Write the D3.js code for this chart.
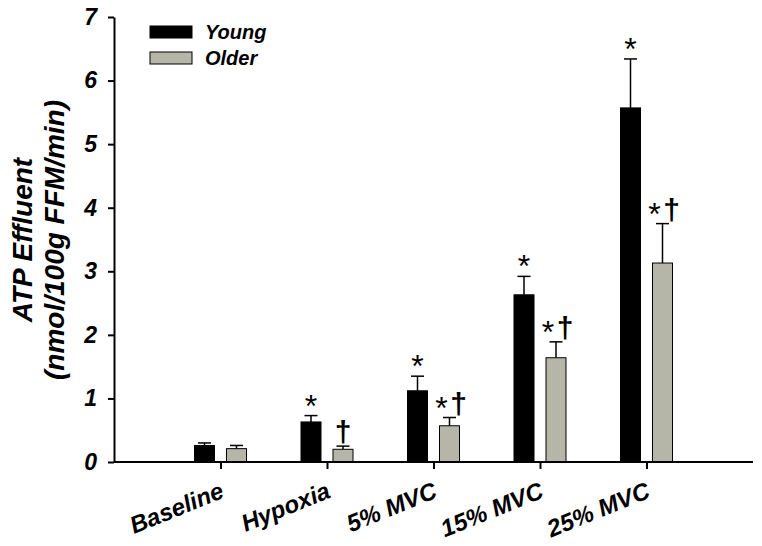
<!DOCTYPE html>
<html><head><meta charset="utf-8">
<script src="https://cdn.jsdelivr.net/npm/d3@7"></script>
<style>body{margin:0;background:#fff}</style>
</head><body>
<svg id="c" width="762" height="546"></svg>
<script>
const categories = ["Baseline","Hypoxia","5% MVC","15% MVC","25% MVC"];
const youngMean = [0.26, 0.63, 1.12, 2.63, 5.57];
const youngErr  = [0.04, 0.10, 0.23, 0.29, 0.77];
const olderMean = [0.21, 0.20, 0.57, 1.64, 3.13];
const olderErr  = [0.05, 0.05, 0.13, 0.25, 0.62];
const youngMarks = ["", "*", "*", "*", "*"];
const olderMarks = ["", "†", "*†", "*†", "*†"];
const yTicks = [0,1,2,3,4,5,6,7];
const series = [
  {name:"Young", mean:youngMean, err:youngErr, marks:youngMarks, color:"#000000", off:-16},
  {name:"Older", mean:olderMean, err:olderErr, marks:olderMarks, color:"#b6b6a8", off:16}
];

const svg = d3.select("#c");
const font = "'Liberation Sans', Arial, sans-serif";
const x = d3.scaleLinear().domain([0,6]).range([114,753]);
const y = d3.scaleLinear().domain([0,7]).range([462,17]);
const bw = 20;

// bars
series.forEach(s => {
  const g = svg.append("g");
  categories.forEach((c,i) => {
    const cx = x(i+1) + s.off;
    g.append("line").attr("x1",cx).attr("x2",cx)
      .attr("y1",y(s.mean[i])).attr("y2",y(s.mean[i]+s.err[i]))
      .attr("stroke","#000").attr("stroke-width",1.5);
    g.append("line").attr("x1",cx-6.5).attr("x2",cx+6.5)
      .attr("y1",y(s.mean[i]+s.err[i])).attr("y2",y(s.mean[i]+s.err[i]))
      .attr("stroke","#000").attr("stroke-width",1.5);
    g.append("rect").attr("x",cx-bw/2).attr("width",bw)
      .attr("y",y(s.mean[i])).attr("height",y(0)-y(s.mean[i]))
      .attr("fill",s.color).attr("stroke","#000").attr("stroke-width",1);
    const m = s.marks[i];
    const top = y(s.mean[i]+s.err[i]);
    if (m.includes("*")) {
      const ax = m.includes("†") ? cx-8 : cx;
      g.append("text").attr("x",ax).attr("y",top+1)
        .attr("text-anchor","middle").attr("font-family",font)
        .attr("font-size",32).text("*");
    }
    if (m.includes("†")) {
      const dx = m.includes("*") ? cx+9 : cx;
      g.append("text").attr("x",dx).attr("y",top-4)
        .attr("text-anchor","middle").attr("font-family",font)
        .attr("font-weight","bold")
        .attr("font-size",30).text("†");
    }
  });
});

// y axis
const yAxis = d3.axisLeft(y).tickValues(yTicks).tickSize(6).tickSizeOuter(0).tickFormat(d3.format("d"));
const ya = svg.append("g").attr("transform","translate(114,0)").call(yAxis);
ya.select(".domain").attr("stroke-width",2);
ya.selectAll(".tick line").attr("stroke-width",2);
ya.selectAll("text").attr("font-family",font).attr("font-size",23)
  .attr("font-weight","bold").attr("font-style","italic").attr("fill","#000").attr("x",-17);

// x axis
const xAxis = d3.axisBottom(x).tickValues([1,2,3,4,5]).tickSize(7).tickSizeOuter(0).tickFormat("");
const xa = svg.append("g").attr("transform","translate(0,462)").call(xAxis);
xa.select(".domain").attr("stroke-width",2).attr("d","M114,0H753");
xa.selectAll(".tick line").attr("stroke-width",2);
svg.append("g").selectAll("text").data(categories).join("text")
  .attr("transform",(d,i)=>"translate(" + (x(i+1)+5) + ",497) rotate(-22)")
  .attr("text-anchor","end").attr("font-family",font).attr("font-size",24)
  .attr("font-weight","bold").attr("font-style","italic").attr("fill","#000")
  .text(d=>d);

// y label
const yl = svg.append("text").attr("transform","translate(0,240) rotate(-90)")
  .attr("text-anchor","middle").attr("font-family",font).attr("font-weight","bold")
  .attr("font-style","italic").attr("font-size",28).attr("fill","#000");
yl.append("tspan").attr("x",0).attr("y",32).text("ATP Effluent");
yl.append("tspan").attr("x",0).attr("y",64).text("(nmol/100g FFM/min)");

// legend
const lg = svg.append("g");
series.forEach((s,i) => {
  lg.append("rect").attr("x",150).attr("y",26+i*26).attr("width",42).attr("height",12)
    .attr("fill",s.color).attr("stroke","#000").attr("stroke-width",1);
  lg.append("text").attr("x",205).attr("y",39+i*26).attr("font-family",font)
    .attr("font-weight","bold").attr("font-style","italic").attr("font-size",20)
    .attr("fill","#000").text(s.name);
});
</script>
</body></html>
